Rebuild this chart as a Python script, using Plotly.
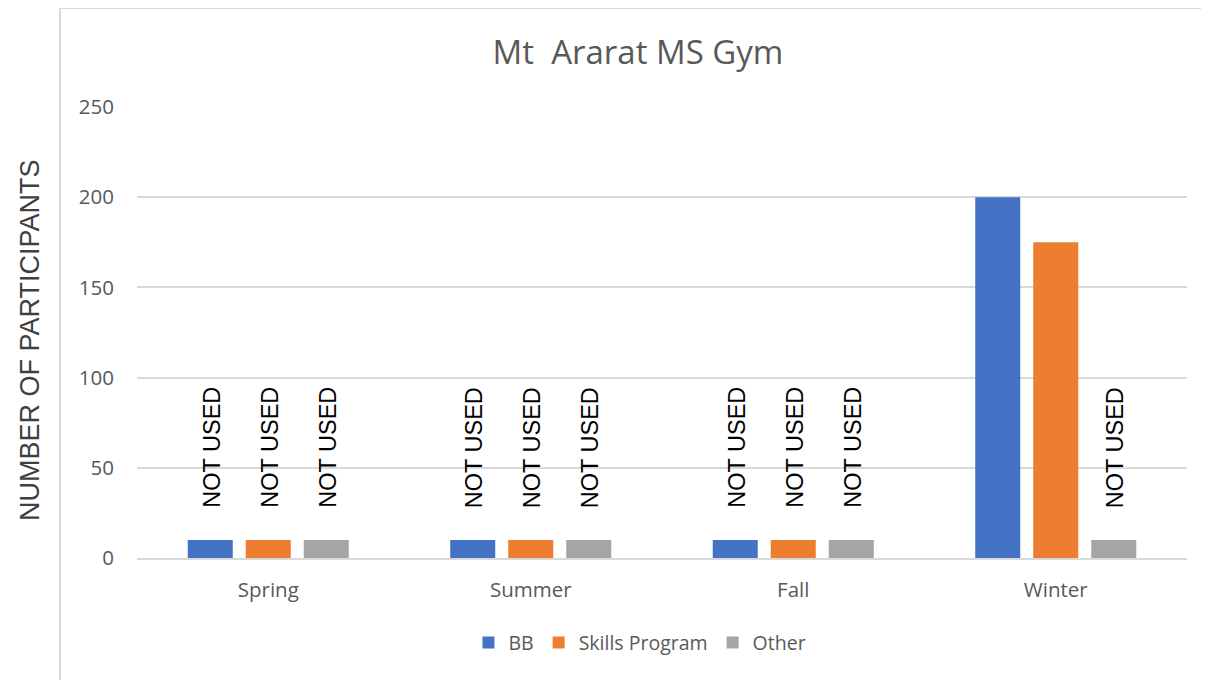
import plotly.graph_objects as go

seasons = ["Spring", "Summer", "Fall", "Winter"]
bb = [10, 10, 10, 200]
skills = [10, 10, 10, 175]
other = [10, 10, 10, 10]
bb_labels = ["NOT USED", "NOT USED", "NOT USED", ""]
skills_labels = ["NOT USED", "NOT USED", "NOT USED", ""]
other_labels = ["NOT USED", "NOT USED", "NOT USED", "NOT USED"]
y_ticks = [0, 50, 100, 150, 200, 250]

series = [
    ("BB", bb, bb_labels, "#4472C4", -58),
    ("Skills Program", skills, skills_labels, "#ED7D31", 0),
    ("Other", other, other_labels, "#A5A5A5", 58),
]

W, H = 1201, 672  # page body has an 8px margin

fig = go.Figure()
annotations = []
for name, vals, labels, color, shift in series:
    fig.add_trace(go.Bar(x=seasons, y=vals, name=name, marker_color=color,
                         marker_line_width=0))
    for s, v, lab in zip(seasons, vals, labels):
        if lab:
            annotations.append(dict(
                x=s, y=v, xref="x", yref="y", text=lab, textangle=-90,
                showarrow=False, xanchor="center", yanchor="bottom",
                xshift=shift + 2, yshift=30,
                font=dict(family="Liberation Sans", size=23.5, color="#000000")))

# y-axis title
annotations.append(dict(
    x=-0.102, y=0.483, xref="paper", yref="paper", text="NUMBER OF PARTICIPANTS",
    textangle=-90, showarrow=False, xanchor="center", yanchor="middle",
    font=dict(family="Liberation Sans", size=27, color="#404040")))

shapes = [
    dict(type="line", xref="paper", yref="paper", x0=-0.0733, x1=-0.0733,
         y0=-0.28, y1=1.2195, line=dict(color="#d9d9d9", width=2)),
    dict(type="line", xref="paper", yref="paper", x0=-0.0733, x1=1.03,
         y0=1.2195, y1=1.2195, line=dict(color="#d9d9d9", width=2)),
]

fig.update_layout(
    width=W, height=H,
    margin=dict(l=129, r=22, t=99, b=122),
    paper_bgcolor="white", plot_bgcolor="white",
    barmode="group", bargap=0.337, bargroupgap=0.224,
    title=dict(text="Mt  Ararat MS Gym", x=630 / W, xanchor="center",
               y=1 - 44 / H, yanchor="middle", yref="container",
               font=dict(family="Open Sans", size=33, color="#595959")),
    legend=dict(orientation="h", x=0.479, xanchor="center", y=-0.188,
                yanchor="middle", font=dict(family="Open Sans", size=19.5, color="#595959"),
                itemwidth=30, traceorder="normal"),
    annotations=annotations,
    shapes=shapes,
    font=dict(family="Open Sans", color="#595959"),
)
fig.update_xaxes(showgrid=False, showline=True, linecolor="#d9d9d9", linewidth=2,
                 ticks="", tickfont=dict(family="Open Sans", size=20.5, color="#595959"),
                 ticklabelstandoff=12)
fig.update_yaxes(range=[0, 250], tickvals=y_ticks, showgrid=True, gridcolor="#d9d9d9",
                 gridwidth=2, zeroline=False, showline=False, ticks="",
                 tickfont=dict(family="Open Sans", size=20.5, color="#595959"),
                 ticklabelstandoff=22)

fig.write_html("out.html")
